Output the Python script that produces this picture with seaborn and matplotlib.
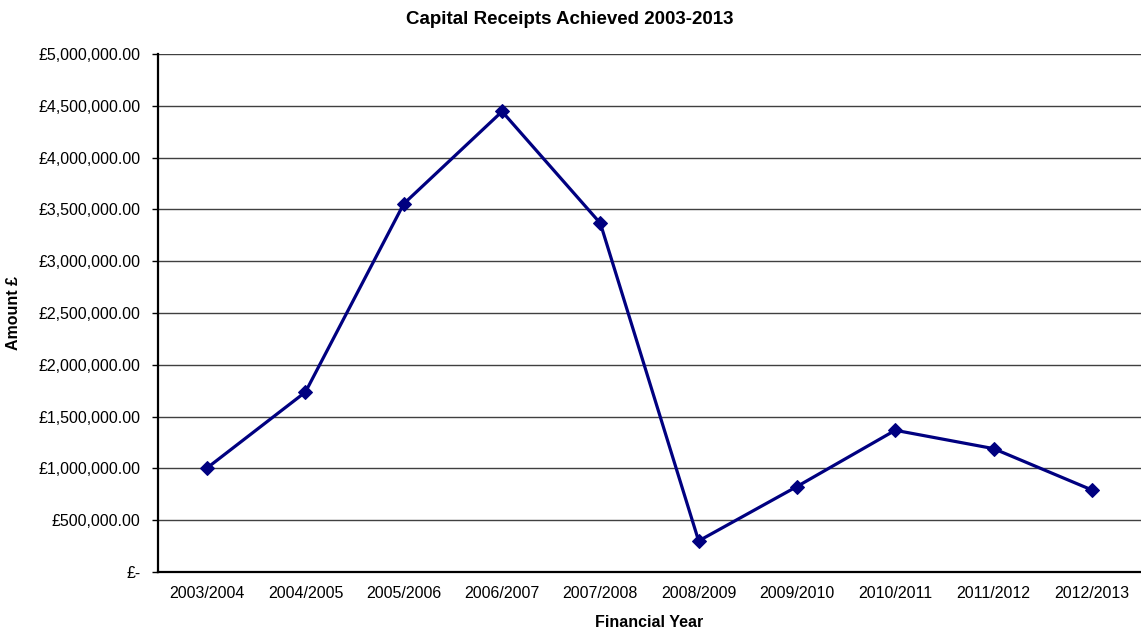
import matplotlib
matplotlib.use("Agg")
import matplotlib.pyplot as plt
import matplotlib.ticker as mticker
import numpy as np
import pandas as pd
import seaborn as sns

# Financial years and capital receipts (GBP)
years = ["2003/2004", "2004/2005", "2005/2006", "2006/2007", "2007/2008",
         "2008/2009", "2009/2010", "2010/2011", "2011/2012", "2012/2013"]
receipts = [1005000, 1737000, 3554000, 4445000, 3366000,
            300000, 825000, 1368000, 1191000, 792000]

df = pd.DataFrame({"Financial Year": years, "Amount": receipts})

sns.set_theme(style="white")
plt.rcParams["font.family"] = ["Liberation Sans", "DejaVu Sans"]
plt.rcParams["text.color"] = "black"
plt.rcParams["axes.labelcolor"] = "black"
plt.rcParams["xtick.color"] = "black"
plt.rcParams["ytick.color"] = "black"

fig = plt.figure(figsize=(11.41, 6.30), dpi=100)
ax = fig.add_axes([158 / 1141, 58 / 630, 983 / 1141, 518 / 630])

x_pos = np.arange(len(years))
sns.lineplot(x=x_pos, y=df["Amount"], ax=ax, color="#000080", linewidth=2.3,
             marker="D", markersize=7, markeredgecolor="#000080")

ax.set_xlim(-0.5, len(years) - 0.5)
ax.set_ylim(0, 5000000)

# y axis: currency labels, horizontal gridlines
ax.yaxis.set_major_locator(mticker.MultipleLocator(500000))


def gbp(v, _pos):
    if v == 0:
        return "£-"
    return "£{:,.2f}".format(v)


ax.yaxis.set_major_formatter(mticker.FuncFormatter(gbp))
ax.grid(axis="y", color="#404040", linewidth=1.0)
ax.set_axisbelow(True)

# x axis: labels centred on categories, tick marks between them
ax.set_xticks(x_pos)
ax.set_xticklabels(years)
ax.set_xticks(np.arange(-0.5, len(years) + 0.5, 1.0), minor=True)
ax.tick_params(axis="x", which="major", length=0, pad=10, labelsize=11.5)
ax.tick_params(axis="x", which="minor", length=4, width=1, color="black", direction="out")
ax.tick_params(axis="y", which="major", length=4, width=1, color="black",
               direction="out", labelsize=11.5, pad=8.5)
ax.tick_params(axis="y", left=True)

for side in ("top", "right"):
    ax.spines[side].set_visible(False)
for side in ("left", "bottom"):
    ax.spines[side].set_color("black")
    ax.spines[side].set_linewidth(1.6)

ax.set_xlabel("Financial Year", fontsize=11.5, fontweight="bold", labelpad=10)
ax.set_ylabel("Amount £", fontsize=11.5, fontweight="bold")
ax.yaxis.set_label_coords(-137 / 983, 0.5)
fig.suptitle("Capital Receipts Achieved 2003-2013", x=570 / 1141, y=1 - 20 / 630,
             va="center", fontsize=13.5, fontweight="bold")

fig.savefig("out.png", dpi=100, facecolor="white")
